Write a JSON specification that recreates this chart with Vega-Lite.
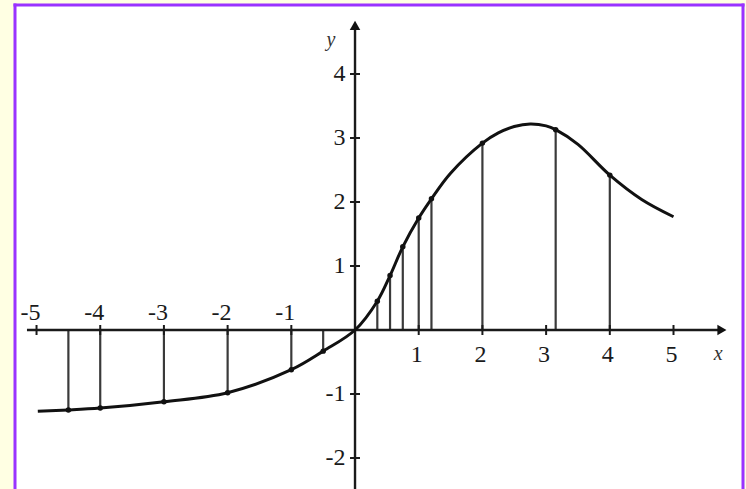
{
  "$schema": "https://vega.github.io/schema/vega-lite/v6.json",
  "width": 728,
  "height": 484,
  "padding": {"left": 15, "top": 5, "right": 3, "bottom": 0},
  "autosize": {"type": "none"},
  "background": "#FFFFE3",
  "view": {"fill": "white", "stroke": null},
  "config": {"font": "Liberation Serif", "text": {"font": "Liberation Serif"}},
  "datasets": {
    "frame": [
      {"x": -5.338, "x2": -5.338, "y": -2.484, "y2": 5.078},
      {"x": 6.091, "x2": 6.091, "y": -2.484, "y2": 5.078},
      {"x": -5.338, "x2": 6.091, "y": 5.078, "y2": 5.078}
    ],
    "axes": [
      {"x": -5.15, "x2": 5.7, "y": 0, "y2": 0},
      {"x": 0, "x2": 0, "y": -2.6, "y2": 4.75}
    ],
    "curve": [
      {"x": -4.98, "y": -1.27},
      {"x": -4.5, "y": -1.25},
      {"x": -4.0, "y": -1.22},
      {"x": -3.0, "y": -1.12},
      {"x": -2.0, "y": -0.98},
      {"x": -1.0, "y": -0.62},
      {"x": -0.5, "y": -0.33},
      {"x": 0.0, "y": 0.0},
      {"x": 0.35, "y": 0.45},
      {"x": 0.55, "y": 0.85},
      {"x": 0.75, "y": 1.3},
      {"x": 1.0, "y": 1.75},
      {"x": 1.2, "y": 2.05},
      {"x": 1.5, "y": 2.45},
      {"x": 2.0, "y": 2.92},
      {"x": 2.25, "y": 3.08},
      {"x": 2.5, "y": 3.18},
      {"x": 2.75, "y": 3.22},
      {"x": 3.0, "y": 3.19},
      {"x": 3.15, "y": 3.13},
      {"x": 3.5, "y": 2.9},
      {"x": 4.0, "y": 2.42},
      {"x": 4.5, "y": 2.04},
      {"x": 5.0, "y": 1.77}
    ],
    "stems": [
      {"x": -4.5, "y": -1.25},
      {"x": -4.0, "y": -1.22},
      {"x": -3.0, "y": -1.12},
      {"x": -2.0, "y": -0.98},
      {"x": -1.0, "y": -0.62},
      {"x": -0.5, "y": -0.33},
      {"x": 0.35, "y": 0.45},
      {"x": 0.55, "y": 0.85},
      {"x": 0.75, "y": 1.3},
      {"x": 1.0, "y": 1.75},
      {"x": 1.2, "y": 2.05},
      {"x": 2.0, "y": 2.92},
      {"x": 3.15, "y": 3.13},
      {"x": 4.0, "y": 2.42}
    ],
    "xticks": [
      {"x": -5, "y": 0},
      {"x": -4, "y": 0},
      {"x": -3, "y": 0},
      {"x": -2, "y": 0},
      {"x": -1, "y": 0},
      {"x": 1, "y": 0},
      {"x": 2, "y": 0},
      {"x": 3, "y": 0},
      {"x": 4, "y": 0},
      {"x": 5, "y": 0}
    ],
    "yticks": [
      {"x": 0, "y": 4},
      {"x": 0, "y": 3},
      {"x": 0, "y": 2},
      {"x": 0, "y": 1},
      {"x": 0, "y": -1},
      {"x": 0, "y": -2}
    ],
    "neglabels": [
      {"x": -5, "y": 0.27, "label": "-5"},
      {"x": -4, "y": 0.27, "label": "-4"},
      {"x": -3, "y": 0.27, "label": "-3"},
      {"x": -2, "y": 0.27, "label": "-2"},
      {"x": -1, "y": 0.27, "label": "-1"}
    ],
    "poslabels": [
      {"x": 1, "y": -0.39, "label": "1"},
      {"x": 2, "y": -0.39, "label": "2"},
      {"x": 3, "y": -0.39, "label": "3"},
      {"x": 4, "y": -0.39, "label": "4"},
      {"x": 5, "y": -0.39, "label": "5"}
    ],
    "ylabels": [
      {"x": -0.15, "y": 4, "label": "4"},
      {"x": -0.15, "y": 3, "label": "3"},
      {"x": -0.15, "y": 2, "label": "2"},
      {"x": -0.15, "y": 1, "label": "1"},
      {"x": -0.15, "y": -1, "label": "-1"},
      {"x": -0.15, "y": -2, "label": "-2"}
    ],
    "uparrow": [{"x": 0, "y": 4.76}],
    "rightarrow": [{"x": 5.76, "y": 0}],
    "names": [
      {"x": -0.38, "y": 4.53, "label": "y"},
      {"x": 5.7, "y": -0.37, "label": "x"}
    ]
  },
  "encoding": {
    "x": {"field": "x", "type": "quantitative", "scale": {"domain": [-5.338, 6.091], "nice": false, "zero": false}, "axis": null},
    "y": {"field": "y", "type": "quantitative", "scale": {"domain": [-2.484, 5.078], "nice": false, "zero": false}, "axis": null}
  },
  "layer": [
    {
      "data": {"name": "stems"},
      "mark": {"type": "rule", "color": "#3a3a3a", "strokeWidth": 2.2},
      "encoding": {"y2": {"datum": 0}}
    },
    {
      "data": {"name": "axes"},
      "mark": {"type": "rule", "color": "#1a1a1a", "strokeWidth": 2.4},
      "encoding": {"x2": {"field": "x2"}, "y2": {"field": "y2"}}
    },
    {
      "data": {"name": "xticks"},
      "mark": {"type": "tick", "orient": "vertical", "size": 10, "thickness": 2, "color": "#1a1a1a", "opacity": 1}
    },
    {
      "data": {"name": "yticks"},
      "mark": {"type": "tick", "orient": "horizontal", "size": 10, "thickness": 2, "color": "#1a1a1a", "opacity": 1}
    },
    {
      "data": {"name": "curve"},
      "mark": {"type": "line", "color": "#111111", "strokeWidth": 3, "interpolate": "catmull-rom"}
    },
    {
      "data": {"name": "stems"},
      "mark": {"type": "point", "filled": true, "color": "#111111", "size": 30, "opacity": 1}
    },
    {
      "data": {"name": "uparrow"},
      "mark": {"type": "point", "shape": "triangle-up", "filled": true, "color": "#111111", "size": 110, "opacity": 1}
    },
    {
      "data": {"name": "rightarrow"},
      "mark": {"type": "point", "shape": "triangle-right", "filled": true, "color": "#111111", "size": 110, "opacity": 1}
    },
    {
      "data": {"name": "neglabels"},
      "mark": {"type": "text", "font": "Liberation Serif", "fontSize": 24, "color": "#1a1a1a", "align": "center", "baseline": "middle", "dx": -6},
      "encoding": {"text": {"field": "label"}}
    },
    {
      "data": {"name": "poslabels"},
      "mark": {"type": "text", "font": "Liberation Serif", "fontSize": 24, "color": "#1a1a1a", "align": "center", "baseline": "middle", "dx": -2},
      "encoding": {"text": {"field": "label"}}
    },
    {
      "data": {"name": "ylabels"},
      "mark": {"type": "text", "font": "Liberation Serif", "fontSize": 24, "color": "#1a1a1a", "align": "right", "baseline": "middle"},
      "encoding": {"text": {"field": "label"}}
    },
    {
      "data": {"name": "names"},
      "mark": {"type": "text", "font": "Liberation Serif", "fontSize": 20, "fontStyle": "italic", "color": "#333333", "align": "center", "baseline": "middle"},
      "encoding": {"text": {"field": "label"}}
    },
    {
      "data": {"name": "frame"},
      "mark": {"type": "rule", "color": "#9933FF", "strokeWidth": 3, "strokeCap": "square"},
      "encoding": {"x2": {"field": "x2"}, "y2": {"field": "y2"}}
    }
  ]
}
